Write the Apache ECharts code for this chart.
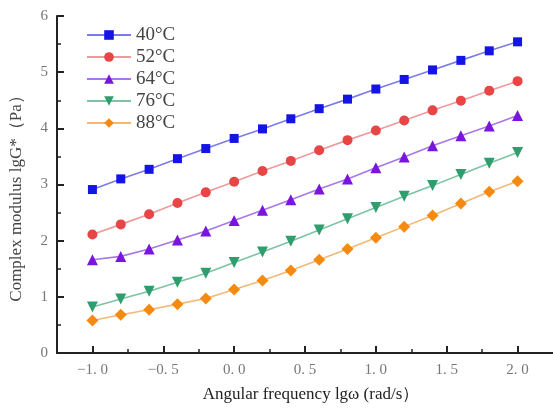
<!DOCTYPE html>
<html><head><meta charset="utf-8">
<script src="https://cdn.jsdelivr.net/npm/echarts@6/dist/echarts.min.js"></script>
<style>html,body{margin:0;padding:0;background:#fff}#c{width:553px;height:408px}</style>
</head><body><div id="c"></div>
<script>
const xs = [-1.0, -0.8, -0.6, -0.4, -0.2, 0.0, 0.2, 0.4, 0.6, 0.8, 1.0, 1.2, 1.4, 1.6, 1.8, 2.0];
const names = ['40°C', '52°C', '64°C', '76°C', '88°C'];
const s40 = [2.91, 3.10, 3.27, 3.46, 3.64, 3.82, 3.99, 4.17, 4.35, 4.52, 4.70, 4.87, 5.04, 5.21, 5.38, 5.54];
const s52 = [2.11, 2.29, 2.47, 2.67, 2.86, 3.05, 3.24, 3.42, 3.61, 3.79, 3.96, 4.14, 4.32, 4.49, 4.67, 4.84];
const s64 = [1.66, 1.72, 1.85, 2.01, 2.17, 2.36, 2.54, 2.73, 2.92, 3.10, 3.30, 3.49, 3.69, 3.87, 4.04, 4.23];
const s76 = [0.82, 0.96, 1.10, 1.26, 1.42, 1.61, 1.80, 1.99, 2.19, 2.39, 2.59, 2.79, 2.98, 3.18, 3.38, 3.57];
const s88 = [0.58, 0.68, 0.77, 0.87, 0.97, 1.13, 1.29, 1.47, 1.66, 1.85, 2.05, 2.25, 2.45, 2.66, 2.87, 3.06];
const xMajor = [-1.0, -0.5, 0.0, 0.5, 1.0, 1.5, 2.0];
const xMinor = [-0.75, -0.25, 0.25, 0.75, 1.25, 1.75];
const yTicks = [0, 1, 2, 3, 4, 5, 6];

const seriesVals = [s40, s52, s64, s76, s88];
const symbols = ['rect', 'circle', 'triangle', 'path://M0,0 L10,0 L5,9 Z', 'diamond'];
const markColors = ['#1414e6', '#e84646', '#7a14e0', '#2e9e6e', '#f58a10'];
const lineColors = ['#7c7ce6', '#ec9a9a', '#a878e6', '#7cc4a4', '#f2b878'];
const sizes = [9, 10, 11, 11, 12];

const chart = echarts.init(document.getElementById('c'));
const font = 'Liberation Serif, DejaVu Serif, serif';
chart.setOption({
  animation: false,
  backgroundColor: '#fff',
  grid: {left: 53, top: 16, right: -5, bottom: 49},
  legend: {
    left: 81, top: 19, orient: 'vertical',
    itemWidth: 44, itemHeight: 12, itemGap: 0,
    textStyle: {fontFamily: font, fontSize: 19, color: '#444', lineHeight: 22},
    data: names
  },
  xAxis: [{
    type: 'value', min: -1.25, max: 2.25,
    name: 'Angular frequency lgω (rad/s）', nameLocation: 'middle', nameGap: 33,
    nameTextStyle: {fontFamily: font, fontSize: 17, color: '#222', padding: [0, 0, 0, 12]},
    axisLine: {onZero: false, lineStyle: {color: '#222', width: 2}},
    axisTick: {inside: true, length: 7, customValues: xMajor, lineStyle: {color: '#222', width: 2}},
    axisLabel: {customValues: xMajor, margin: 10, fontFamily: font, fontSize: 15, color: '#777',
      formatter: v => v.toFixed(1).replace('-', '−').replace('.', '. ')},
    splitLine: {show: false}
  }, {
    type: 'value', min: -1.25, max: 2.25, position: 'bottom',
    axisLine: {show: false, onZero: false},
    axisTick: {show: true, inside: true, length: 4, customValues: xMinor, lineStyle: {color: '#222', width: 1.5}},
    axisLabel: {show: false}, splitLine: {show: false}
  }],
  yAxis: {
    type: 'value', min: 0, max: 6, interval: 1,
    name: 'Complex modulus lgG*（Pa）', nameLocation: 'middle', nameGap: 32,
    nameTextStyle: {fontFamily: font, fontSize: 17, color: '#444', padding: [0, 20, 0, 0]},
    axisLine: {show: true, onZero: false, lineStyle: {color: '#222', width: 2}},
    axisTick: {inside: true, length: 7, lineStyle: {color: '#222', width: 2}},
    minorTick: {show: true, splitNumber: 2, length: 4, lineStyle: {color: '#222', width: 1.5}},
    axisLabel: {margin: 9, fontFamily: font, fontSize: 15, color: '#777',
      formatter: v => yTicks.includes(v) ? String(v) : ''},
    splitLine: {show: false}
  },
  series: names.map((n, i) => ({
    name: n, type: 'line', xAxisIndex: 0,
    data: xs.map((x, j) => [x, seriesVals[i][j]]),
    symbol: symbols[i], symbolSize: sizes[i],
    itemStyle: {color: markColors[i]},
    lineStyle: {color: lineColors[i], width: 1.6}
  }))
});
</script></body></html>
